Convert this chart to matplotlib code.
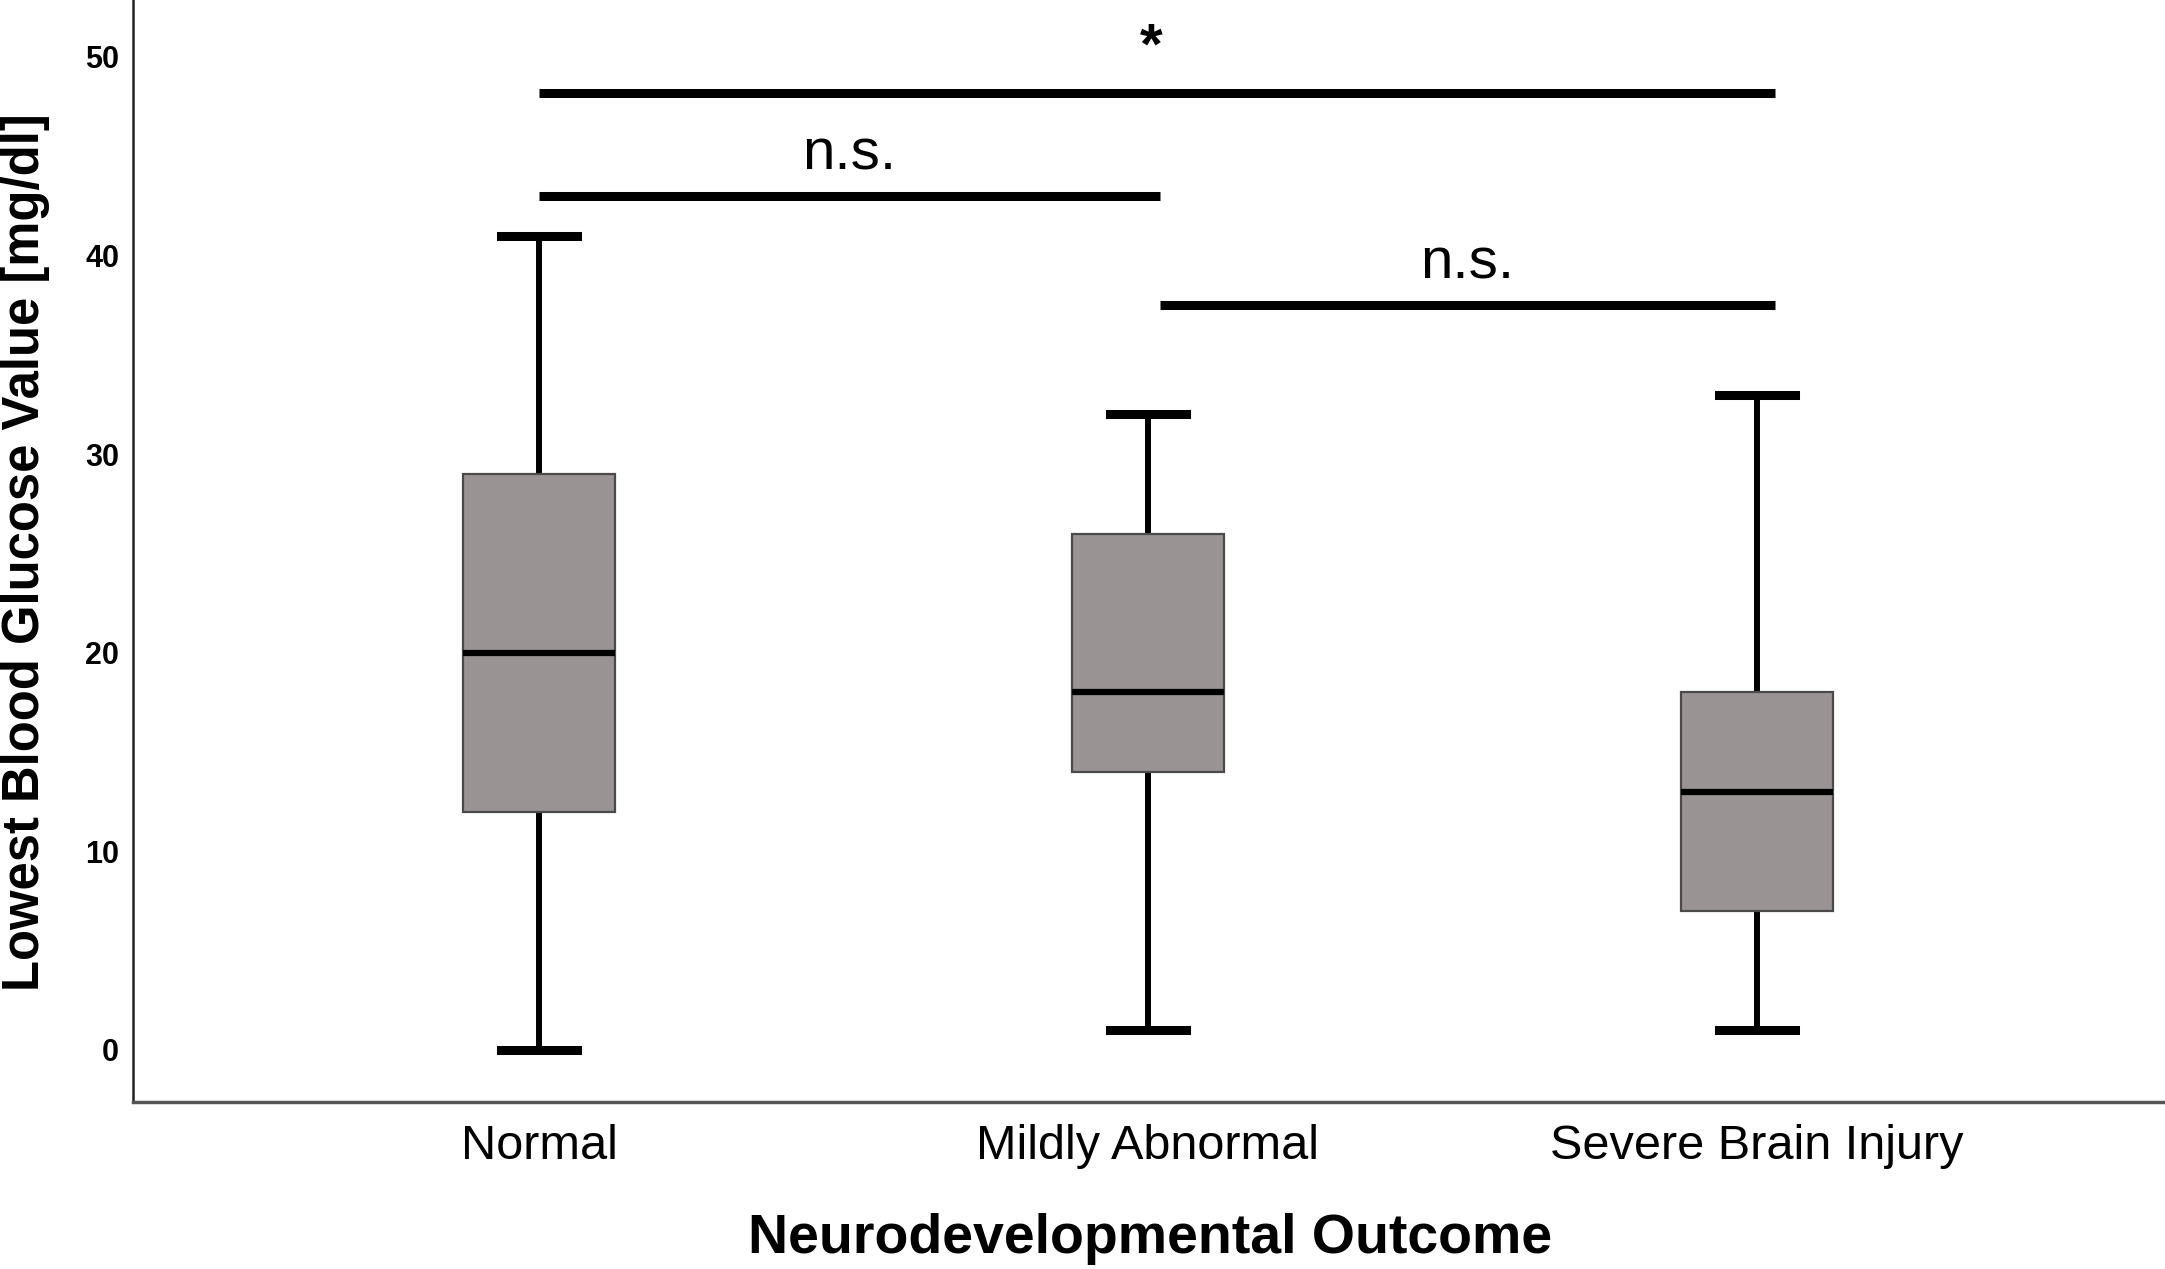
import matplotlib
matplotlib.use("Agg")
import matplotlib.pyplot as plt

categories = ["Normal", "Mildly Abnormal", "Severe Brain Injury"]
whisker_low = [0, 1, 1]
q1 = [12, 14, 7]
median = [20, 18, 13]
q3 = [29, 26, 18]
whisker_high = [41, 32, 33]

y_ticks = [0, 10, 20, 30, 40, 50]

# significance annotations: (x_start, x_end, y, label)
sig_x_start = [0, 0, 1.02]
sig_x_end = [2.03, 1.02, 2.03]
sig_y = [48.2, 43.0, 37.5]
sig_labels = ["*", "n.s.", "n.s."]

fig = plt.figure(figsize=(21.65, 12.69), dpi=100)
ax = fig.add_axes([0.0614, 0.1316, 0.9376, 0.8684])

stats = []
for i, c in enumerate(categories):
    stats.append(dict(label=c, whislo=whisker_low[i], q1=q1[i], med=median[i],
                      q3=q3[i], whishi=whisker_high[i], fliers=[]))
positions = list(range(len(categories)))
bp = ax.bxp(stats, positions=positions, widths=0.25, patch_artist=True,
            showfliers=False,
            boxprops=dict(facecolor="#999393", edgecolor="#4a4a4a", linewidth=1.6),
            medianprops=dict(color="black", linewidth=4.5),
            whiskerprops=dict(color="black", linewidth=4.3),
            capprops=dict(color="black", linewidth=6.5),
            capwidths=0.125)
for w in bp["whiskers"]:
    w.set_zorder(1)

ax.set_xlim(-0.667, 2.667)
ax.set_ylim(-2.62, 52.87)
ax.set_yticks(y_ticks)
ax.set_yticklabels([str(t) for t in y_ticks], fontsize=22, fontweight="bold",
                   family="Liberation Sans")
ax.set_xticks(positions)
ax.set_xticklabels(categories, fontsize=35, family="Liberation Sans")
ax.tick_params(axis="y", length=0, pad=10)
ax.tick_params(axis="x", length=0, pad=16)

for s in ["top", "right"]:
    ax.spines[s].set_visible(False)
ax.spines["left"].set_linewidth(1.8)
ax.spines["left"].set_color("#222222")
ax.spines["bottom"].set_linewidth(2.5)
ax.spines["bottom"].set_color("#555555")

for xs, xe, y, lab in zip(sig_x_start, sig_x_end, sig_y, sig_labels):
    ax.plot([xs, xe], [y, y], color="black", linewidth=6.5, solid_capstyle="butt")
    xm = (xs + xe) / 2
    if lab == "*":
        ax.text(xm - 0.01, y + 2.2, lab, ha="center", va="center", fontsize=42,
                fontweight="bold", family="Liberation Sans")
    else:
        ax.text(xm, y + 1.35, lab, ha="center", va="baseline", fontsize=42,
                family="Liberation Sans")

fig.text(0.531, 0.013, "Neurodevelopmental Outcome", ha="center", va="baseline",
         fontsize=40, fontweight="bold", family="Liberation Sans")
fig.text(0.012, 0.565, "Lowest Blood Glucose Value [mg/dl]", ha="center",
         va="center", rotation=90, fontsize=36.5, fontweight="bold",
         family="Liberation Sans")

fig.savefig("out.png", dpi=100)
